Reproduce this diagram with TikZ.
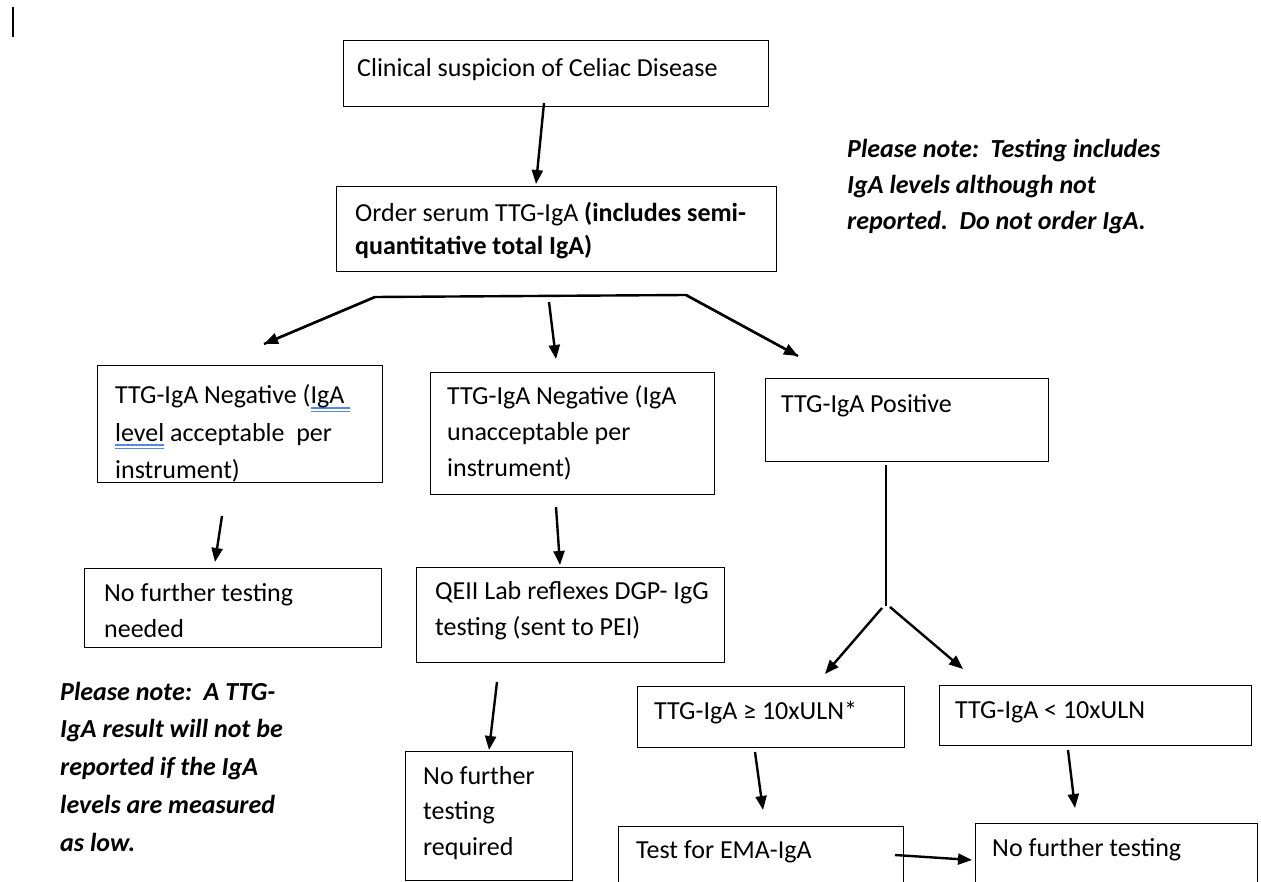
\documentclass[tikz,border=0pt]{standalone}
\usepackage{fontspec}
\setmainfont{Carlito}
\usetikzlibrary{arrows.meta}
\definecolor{ulblue}{RGB}{85,135,230}
\newcommand\dblul[1]{\setbox0\hbox{#1}\leavevmode\rlap{\textcolor{ulblue}{\rule[-4.5pt]{\wd0}{1.3pt}}}\rlap{\textcolor{ulblue}{\rule[-8pt]{\wd0}{1.3pt}}}\box0\relax}
\begin{document}
\begin{tikzpicture}[x=1pt,y=-1pt,
  box/.style={draw=black, line width=1.4pt, rectangle, inner sep=0pt, anchor=north west},
  txt/.style={anchor=base west, align=left, inner sep=0pt, font=\fontsize{26}{37}\selectfont},
  note/.style={anchor=base west, align=left, inner sep=0pt, font=\fontsize{26}{37.7}\selectfont\bfseries\itshape},
  arr/.style={line width=2.4pt, -{Triangle[length=14pt,width=11pt]}},
  ln/.style={line width=2.4pt}]
\useasboundingbox (0,0) rectangle (1261,882);
\clip (0,0) rectangle (1261,882);
\fill[white] (0,0) rectangle (1261,882);
% cursor mark
\coordinate (m1) at (13,7);
\coordinate (m2) at (13,37);
\draw[line width=1.5pt] (m1) -- (m2);
% boxes
\node[box, minimum width=425pt, minimum height=66pt] (b1) at (343,40) {};
\node[box, minimum width=440pt, minimum height=85pt] (b2) at (336,186) {};
\node[box, minimum width=285pt, minimum height=117pt] (b3) at (97,365) {};
\node[box, minimum width=284pt, minimum height=122pt] (b4) at (430,372) {};
\node[box, minimum width=283pt, minimum height=83pt] (b5) at (765,378) {};
\node[box, minimum width=297pt, minimum height=79pt] (b6) at (84,568) {};
\node[box, minimum width=308pt, minimum height=95pt] (b7) at (416,567) {};
\node[box, minimum width=167pt, minimum height=129pt] (b8) at (405,751) {};
\node[box, minimum width=267pt, minimum height=61pt] (b9) at (637,686) {};
\node[box, minimum width=312pt, minimum height=60pt] (b10) at (939,685) {};
\node[box, minimum width=285pt, minimum height=75pt] (b11) at (618,826) {};
\node[box, minimum width=282pt, minimum height=75pt] (b12) at (975,823) {};
% texts (anchor = baseline of the last line)
\node[txt] (t1) at (357,77) {Clinical suspicion of Celiac Disease};
\node[txt, font=\fontsize{26}{33}\selectfont] (t2) at (355,255) {Order serum TTG-IgA \textbf{(includes semi-}\\\textbf{quantitative total IgA)}};
\node[txt] (t3) at (115,478) {TTG-IgA Negative (\dblul{IgA\ }\\\dblul{level} acceptable\ \ per\\instrument)};
\node[txt, font=\fontsize{26}{36}\selectfont] (t4) at (447,476) {TTG-IgA Negative (IgA\\unacceptable per\\instrument)};
\node[txt] (t5) at (781,413) {TTG-IgA Positive};
\node[txt, font=\fontsize{26}{36}\selectfont] (t6) at (104,637) {No further testing\\needed};
\node[txt, font=\fontsize{26}{36}\selectfont] (t7) at (435,635) {QEII Lab reflexes DGP- IgG\\testing (sent to PEI)};
\node[txt, font=\fontsize{26}{35.5}\selectfont] (t8) at (423,855) {No further\\testing\\required};
\node[txt] (t9) at (654,719) {TTG-IgA ≥ 10xULN*};
\node[txt] (t10) at (955,718) {TTG-IgA < 10xULN};
\node[txt] (t11) at (636,858) {Test for EMA-IgA};
\node[txt] (t12) at (992,856) {No further testing};
\node[note, font=\fontsize{26}{36}\selectfont\bfseries\itshape] (n1) at (847,230) {Please note:\ \ Testing includes\\IgA levels although not\\reported.\ \ Do not order IgA.};
\node[note] (n2) at (60,851) {Please note:\ \ A TTG-\\IgA result will not be\\reported if the IgA\\levels are measured\\as low.};
% connector points
\coordinate (c1a) at (544,103); \coordinate (c1b) at (536,184);
\coordinate (bl) at (375,297); \coordinate (br) at (686,295);
\coordinate (tl) at (264,344); \coordinate (tr) at (798,356);
\coordinate (c2a) at (549,302); \coordinate (c2b) at (556,359);
\coordinate (c3a) at (222,516); \coordinate (c3b) at (215,562);
\coordinate (c4a) at (556,507); \coordinate (c4b) at (560,565);
\coordinate (c5a) at (886,465); \coordinate (c5b) at (886,606);
\coordinate (c5l) at (882,608); \coordinate (c5lt) at (825,674);
\coordinate (c5r) at (890,607); \coordinate (c5rt) at (963,669);
\coordinate (c7a) at (497,682); \coordinate (c7b) at (489,750);
\coordinate (c9a) at (755,752); \coordinate (c9b) at (763,810);
\coordinate (c10a) at (1068,750); \coordinate (c10b) at (1075,808);
\coordinate (c11a) at (895,855); \coordinate (c11b) at (972,860);
% connectors
\draw[arr] (c1a) -- (c1b);
\draw[ln, line join=round] (tl) -- (bl) -- (br) -- (tr);
\draw[arr] (bl) -- (tl);
\draw[arr] (br) -- (tr);
\draw[arr] (c2a) -- (c2b);
\draw[arr] (c3a) -- (c3b);
\draw[arr] (c4a) -- (c4b);
\draw[ln] (c5a) -- (c5b);
\draw[arr] (c5l) -- (c5lt);
\draw[arr] (c5r) -- (c5rt);
\draw[arr] (c7a) -- (c7b);
\draw[arr] (c9a) -- (c9b);
\draw[arr] (c10a) -- (c10b);
\draw[arr] (c11a) -- (c11b);
\end{tikzpicture}
\end{document}
